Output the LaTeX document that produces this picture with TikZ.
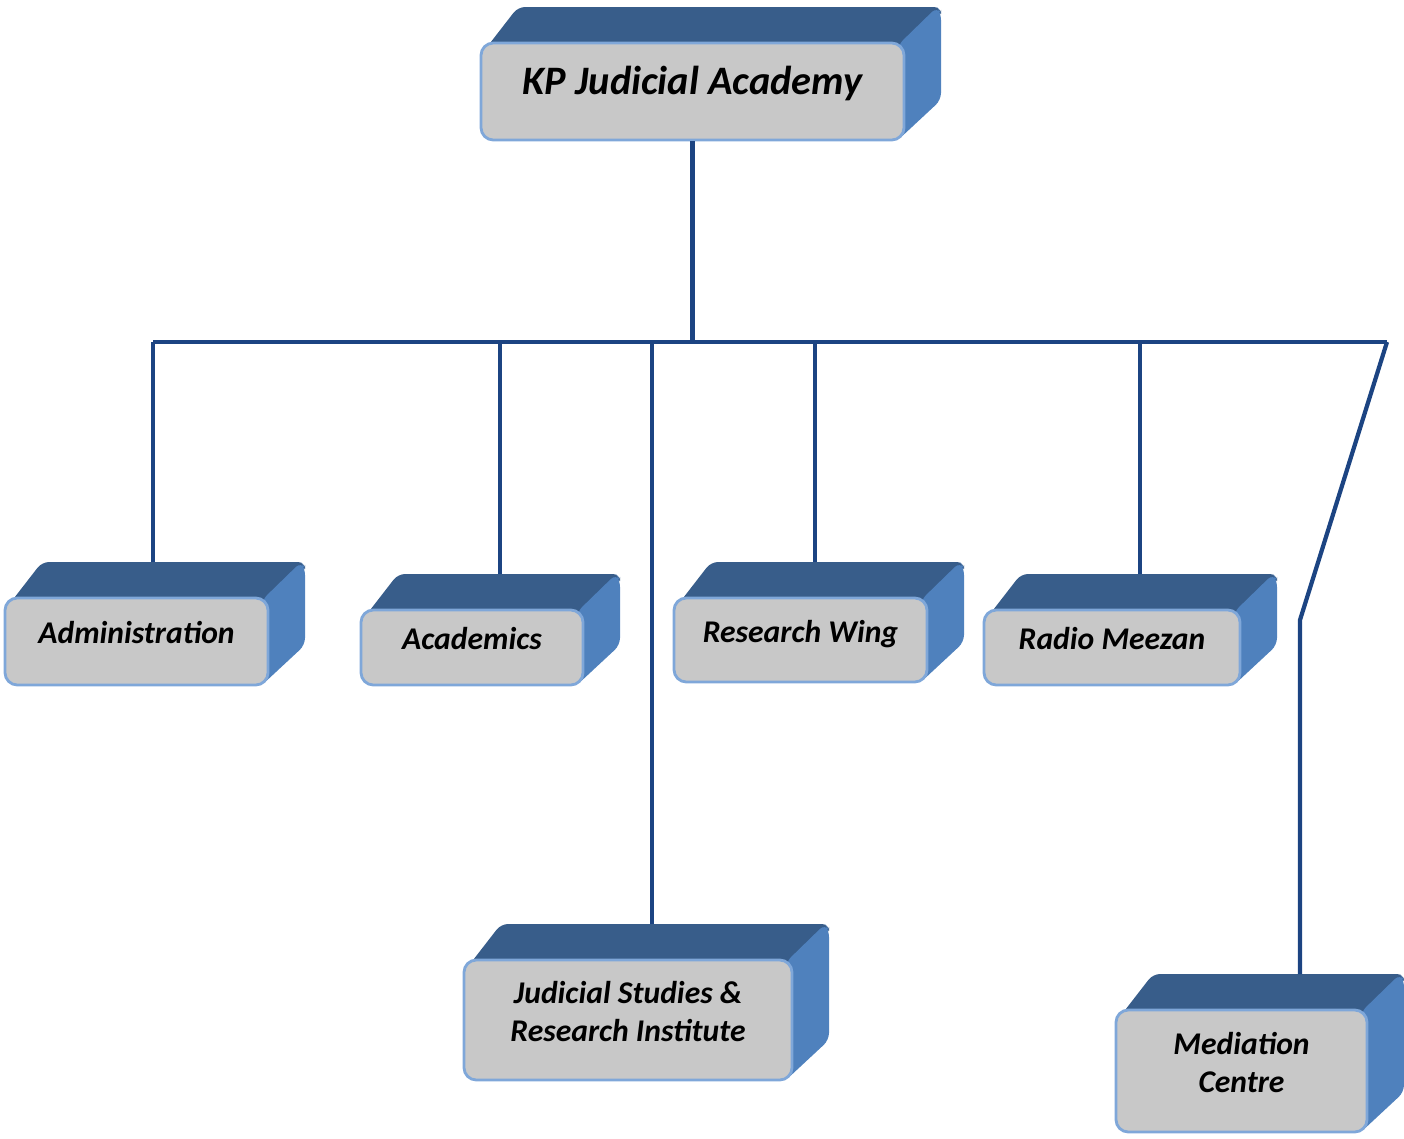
\documentclass[tikz,border=0pt]{standalone}
\usepackage{fontspec}
\setmainfont{Carlito}
\definecolor{boxtop}{HTML}{385D8A}
\definecolor{boxside}{HTML}{4F81BD}
\definecolor{boxfront}{HTML}{C8C8C8}
\definecolor{boxrim}{HTML}{7FA7D9}
\definecolor{linkblue}{HTML}{1C4482}
\tikzset{
  unit/.style={draw=boxrim,line width=1.6pt,fill=boxfront,rounded corners=7pt,
    inner sep=0pt,align=center,font=\fontsize{18}{22}\selectfont\bfseries\itshape},
  link/.style={linkblue,line width=2.4pt},
}
% #1 name, (#2,#3) front top left, (#4,#5) front bottom right, #6 text
\newcommand{\unitbox}[6]{%
  \fill[boxtop,rounded corners=4pt] ({#2+6},{#3+4}) -- ({#2+37},{#3-36}) -- ({#4+37},{#3-36}) -- ({#4+37},{#3-26}) -- ({#4-4},{#3+4}) -- cycle;
  \fill[boxside,rounded corners=4pt] ({#4-6},{#3+2}) -- ({#4+33},{#3-36}) -- ({#4+37},{#3-30}) -- ({#4+37},{#5-40}) -- ({#4-6},{#5}) -- cycle;
  \node[unit,minimum width={(#4-#2)*0.02cm},minimum height={(#5-#3)*0.02cm}] (#1) at ({(#2+#4)/2},{(#3+#5)/2})
    {\raisebox{3pt}[\height][\depth]{\begin{tabular}{@{}c@{}}#6\end{tabular}}};
  \coordinate (#1-top) at ({(#2+#4)/2+37},{#3-36});
}
\begin{document}
\begin{tikzpicture}[x=0.02cm,y=-0.02cm]
\useasboundingbox (0,0) rectangle (1404,1139);
%\draw[step=50,gray,very thin] (0,0) grid (1404,1139); %background grid
\unitbox{kp}{481}{43}{904}{140}{\fontsize{23}{27}\selectfont KP Judicial Academy}
\unitbox{admin}{5}{598}{268}{685}{Administration}
\unitbox{acad}{361}{610}{583}{685}{Academics}
\unitbox{wing}{674}{598}{927}{682}{Research Wing}
\unitbox{radio}{984}{610}{1240}{685}{Radio Meezan}
\unitbox{jsri}{464}{960}{792}{1080}{Judicial Studies \&\\Research Institute}
\unitbox{med}{1116}{1010}{1367}{1132}{Mediation\\Centre}
% bus and taps
\coordinate (tap-admin) at (153,342);
\coordinate (tap-acad) at (500,342);
\coordinate (tap-jsri) at (652,342);
\coordinate (tap-wing) at (815,342);
\coordinate (tap-radio) at (1140,342);
\coordinate (tap-med) at (1387,342);
\coordinate (bend) at (1300,620);
\draw[link] (kp.south) -- (kp.south |- tap-admin);
\draw[link] (tap-admin) -- (tap-med);
\draw[link] (tap-admin) -- (tap-admin |- admin-top);
\draw[link] (tap-acad) -- (tap-acad |- acad-top);
\draw[link] (tap-jsri) -- (tap-jsri |- jsri-top);
\draw[link] (tap-wing) -- (tap-wing |- wing-top);
\draw[link] (tap-radio) -- (tap-radio |- radio-top);
\draw[link] (tap-med) -- (bend) -- (bend |- med-top);
\end{tikzpicture}
\end{document}
